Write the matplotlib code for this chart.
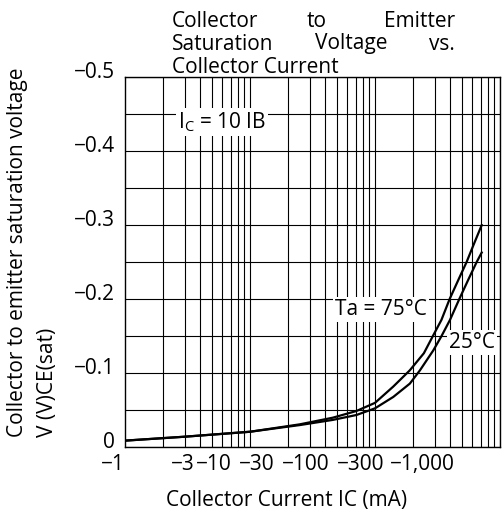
import numpy as np
import matplotlib.pyplot as plt
import matplotlib.transforms as mtransforms
from matplotlib.ticker import LogLocator, MultipleLocator, NullFormatter

plt.rcParams['font.family'] = ['Open Sans', 'DejaVu Sans']
plt.rcParams['mathtext.fontset'] = 'custom'
plt.rcParams['mathtext.rm'] = 'Open Sans'
plt.rcParams['font.size'] = 15

# Collector current magnitude (mA) and V_CE(sat) (V)
current_75 = [1, 3, 10, 25, 46, 71, 100, 140, 190, 246, 290, 340, 395, 470, 540, 620, 714]
vce_75 = [-0.009, -0.0143, -0.021, -0.031, -0.040, -0.049, -0.060, -0.082, -0.104,
          -0.127, -0.150, -0.172, -0.200, -0.228, -0.250, -0.275, -0.300]

current_25 = [1, 3, 10, 25, 46, 71, 100, 140, 190, 229, 293, 340, 398, 472, 560, 650, 714]
vce_25 = [-0.009, -0.0143, -0.021, -0.030, -0.037, -0.0436, -0.0526, -0.068, -0.086,
          -0.104, -0.131, -0.150, -0.172, -0.200, -0.227, -0.250, -0.263]

y_ticks = [0, -0.1, -0.2, -0.3, -0.4, -0.5]
y_tick_labels = ['0', '\u22120.1', '\u22120.2', '\u22120.3', '\u22120.4', '\u22120.5']
x_tick_labels = ['\u22121', '\u22123', '\u221210', '\u221230', '\u2212100', '\u2212300', '\u22121,000']
# where the original chart prints its x labels (not at their true values)
x_tick_pos = [1, 2.91, 5.15, 11.4, 28.1, 77.3, 237.7]

fig = plt.figure(figsize=(5.03, 5.14), dpi=100)
ax = fig.add_axes([125 / 503, 1 - 447.3 / 514, 375 / 503, 370.3 / 514])

ax.plot(current_75, vce_75, color='black', linewidth=1.6, solid_joinstyle='round', zorder=3)
ax.plot(current_25, vce_25, color='black', linewidth=1.6, solid_joinstyle='round', zorder=3)

ax.set_xscale('log')
ax.set_xlim(1, 1000)
ax.set_ylim(0, -0.5)

# grid: every decade subdivision and every 0.05 V
ax.xaxis.set_minor_locator(LogLocator(base=10, subs=np.arange(2, 10)))
ax.xaxis.set_minor_formatter(NullFormatter())
ax.yaxis.set_minor_locator(MultipleLocator(0.05))
ax.grid(True, which='both', axis='both', color='black', linewidth=0.8, zorder=1)
ax.set_axisbelow(True)

ax.set_yticks(y_ticks)
ax.set_yticklabels(y_tick_labels)
ax.set_xticks(x_tick_pos, minor=False)
ax.set_xticklabels(x_tick_labels)
ax.xaxis.grid(False, which='major')
# redraw decade grid lines since major ticks are moved to the label spots
for dec in [10, 100, 1000]:
    ax.axvline(dec, color='black', linewidth=0.8, zorder=1)
ax.tick_params(which='both', length=0)
ax.tick_params(axis='y', pad=7)
ax.tick_params(axis='x', pad=5)
ax.xaxis.get_ticklabels()[0].set_horizontalalignment('right')
# y labels sit a little above their grid lines in the original
up = mtransforms.ScaledTranslation(0, 5 / 72, fig.dpi_scale_trans)
for lab in ax.yaxis.get_ticklabels():
    lab.set_transform(lab.get_transform() + up)
for s in ax.spines.values():
    s.set_linewidth(1.0)

box = dict(facecolor='white', edgecolor='none', pad=1.5)
ax.text(2.65, -0.431, '$\\mathregular{I_C}$ = 10 IB', ha='left', va='baseline', bbox=box, zorder=4)
ax.text(47.9, -0.1785, 'Ta = 75°C', ha='left', va='baseline', bbox=box, zorder=4)
ax.text(393, -0.1336, '25°C', ha='left', va='baseline', bbox=box, zorder=4)

# justified title, three lines
def fx(px):
    return px / 503

def fy(py):
    return 1 - py / 514

fig.text(fx(172), fy(26.7), 'Collector', ha='left', va='baseline')
fig.text(fx(307), fy(26.7), 'to', ha='left', va='baseline')
fig.text(fx(455), fy(26.7), 'Emitter', ha='right', va='baseline')
fig.text(fx(172), fy(49.5), 'Saturation', ha='left', va='baseline')
fig.text(fx(315), fy(49.5), 'Voltage', ha='left', va='baseline')
fig.text(fx(455), fy(49.5), 'vs.', ha='right', va='baseline')
fig.text(fx(172), fy(73.3), 'Collector Current', ha='left', va='baseline')

fig.text(fx(286.5), fy(506), 'Collector Current IC (mA)', ha='center', va='baseline')
fig.text(fx(18), fy(437), 'Collector to emitter saturation voltage', rotation=90, ha='center', va='bottom')
fig.text(fx(48), fy(437), 'V (V)CE(sat)', rotation=90, ha='center', va='bottom')

fig.savefig('out.png', dpi=100)
